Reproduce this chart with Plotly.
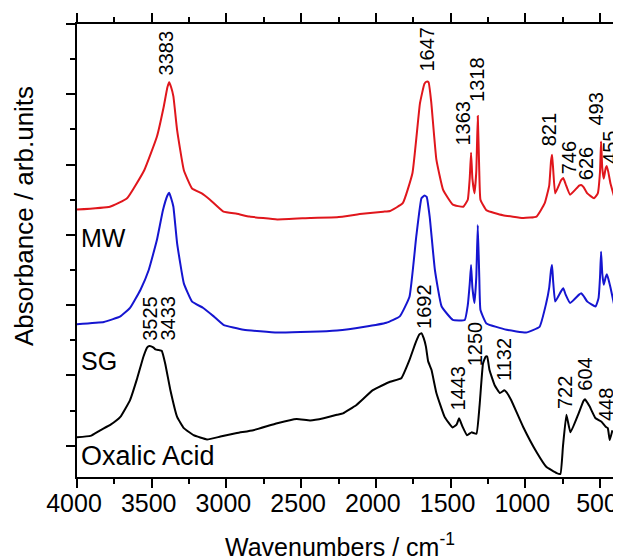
import plotly.graph_objects as go

# ---------------- data (wavenumber cm^-1, absorbance arb. units) ----------------
mw_wn = [4000, 3780, 3665, 3550, 3465, 3420, 3395, 3383, 3370, 3355, 3330, 3285, 3230,
         3165, 3110, 3020, 2930, 2845, 2660, 2440, 2260, 2090, 1950, 1905, 1820, 1755,
         1705, 1675, 1660, 1647, 1630, 1595, 1550, 1485, 1415, 1385, 1372, 1363, 1354,
         1340, 1328, 1318, 1308, 1300, 1260, 1150, 1015, 925, 870, 840, 828, 821, 814,
         800, 760, 746, 730, 700, 640, 626, 610, 585, 540, 515, 500, 493, 485, 475,
         462, 455, 445, 430, 405]
mw_ab = [3.36, 3.40, 3.52, 3.92, 4.40, 4.82, 5.10, 5.17, 5.10, 4.97, 4.49, 3.92, 3.66,
         3.59, 3.50, 3.33, 3.30, 3.26, 3.22, 3.24, 3.25, 3.30, 3.33, 3.34, 3.45, 3.88,
         4.87, 5.15, 5.18, 5.17, 4.90, 4.07, 3.64, 3.43, 3.40, 3.50, 3.80, 4.17, 3.80,
         3.59, 3.90, 4.69, 3.90, 3.50, 3.35, 3.28, 3.24, 3.26, 3.45, 3.70, 4.05, 4.14,
         3.95, 3.59, 3.78, 3.81, 3.72, 3.57, 3.70, 3.71, 3.68, 3.59, 3.52, 3.59, 3.90,
         4.33, 3.95, 3.80, 3.95, 3.98, 3.90, 3.73, 3.54]

sg_wn = [4000, 3820, 3710, 3645, 3575, 3520, 3465, 3425, 3395, 3383, 3370, 3355, 3330,
         3285, 3230, 3155, 3085, 3020, 2885, 2660, 2440, 2260, 2085, 1930, 1840, 1775,
         1730, 1695, 1675, 1660, 1640, 1605, 1560, 1485, 1405, 1385, 1372, 1363, 1354,
         1340, 1328, 1318, 1308, 1300, 1260, 1125, 995, 905, 860, 840, 828, 821, 814,
         800, 760, 746, 730, 700, 640, 626, 610, 585, 530, 510, 500, 493, 485, 475,
         462, 455, 445, 430, 405]
sg_ab = [1.73, 1.76, 1.84, 1.96, 2.22, 2.50, 2.93, 3.35, 3.56, 3.60, 3.52, 3.40, 2.88,
         2.31, 2.05, 1.96, 1.84, 1.72, 1.65, 1.61, 1.62, 1.64, 1.69, 1.75, 1.84, 2.12,
         2.97, 3.52, 3.56, 3.54, 3.26, 2.50, 1.98, 1.79, 1.79, 2.00, 2.30, 2.57, 2.25,
         2.03, 2.40, 3.14, 2.40, 1.93, 1.74, 1.65, 1.61, 1.69, 2.03, 2.25, 2.50, 2.57,
         2.35, 2.05, 2.20, 2.24, 2.15, 2.03, 2.15, 2.17, 2.13, 2.05, 1.98, 2.10, 2.40,
         2.76, 2.45, 2.29, 2.40, 2.44, 2.38, 2.25, 2.00]

ox_wn = [4000, 3910, 3845, 3775, 3710, 3645, 3600, 3555, 3530, 3515, 3490, 3475, 3450,
         3433, 3410, 3375, 3330, 3285, 3220, 3130, 3040, 2930, 2820, 2660, 2530, 2440,
         2350, 2260, 2220, 2130, 2020, 1905, 1830, 1775, 1735, 1710, 1695, 1680, 1665,
         1650, 1628, 1595, 1540, 1487, 1460, 1443, 1420, 1390, 1360, 1327, 1305, 1283,
         1265, 1255, 1240, 1205, 1170, 1140, 1125, 1095, 1015, 925, 860, 790, 765, 748,
         725, 698, 647, 610, 600, 570, 530, 490, 462, 448, 435, 417]
ox_ab = [0.12, 0.14, 0.22, 0.30, 0.41, 0.65, 0.94, 1.27, 1.40, 1.42, 1.40, 1.37, 1.36,
         1.35, 1.17, 0.79, 0.41, 0.25, 0.15, 0.09, 0.13, 0.18, 0.22, 0.32, 0.38, 0.36,
         0.39, 0.44, 0.46, 0.58, 0.79, 0.91, 0.96, 1.22, 1.46, 1.58, 1.60, 1.53, 1.41,
         1.20, 1.08, 0.75, 0.41, 0.26, 0.30, 0.39, 0.27, 0.15, 0.19, 0.17, 0.60, 1.17,
         1.27, 1.27, 1.08, 0.86, 0.75, 0.79, 0.76, 0.65, 0.27, -0.09, -0.30, -0.39, -0.40,
         -0.01, 0.44, 0.19, 0.44, 0.64, 0.66, 0.56, 0.39, 0.34, 0.27, 0.25, 0.08, 0.22]

# peak labels: text, label x (cm^-1), label bottom (arb. units)
mw_labels = ["3383", "1647", "1363", "1318", "821", "746", "626", "493", "455"]
mw_lab_x = [3403, 1661, 1423, 1323, 843, 710, 592, 524, 432]
mw_lab_y = [5.25, 5.31, 4.25, 4.87, 4.25, 3.85, 3.76, 4.54, 3.99]

ox_labels = ["3525", "3433", "1692", "1443", "1250", "1132", "722", "604", "448"]
ox_lab_x = [3507, 3389, 1673, 1450, 1338, 1138, 730, 603, 455]
ox_lab_y = [1.48, 1.48, 1.65, 0.48, 1.12, 0.91, 0.51, 0.77, 0.34]

sample_names = ["MW", "SG", "Oxalic Acid"]
sample_name_y = [2.955, 1.21, -0.15]

x_ticks = [4000, 3500, 3000, 2500, 2000, 1500, 1000, 500]

x_title = "Wavenumbers / cm<sup>-1</sup>"
y_title = "Absorbance / arb.units"

# ---------------- figure ----------------
fig = go.Figure()
line_shape = dict(shape="spline", smoothing=0.35)
fig.add_trace(go.Scatter(x=mw_wn, y=mw_ab, mode="lines",
                         line=dict(color="#e0161c", width=2, **line_shape), name="MW"))
fig.add_trace(go.Scatter(x=sg_wn, y=sg_ab, mode="lines",
                         line=dict(color="#1515d0", width=2, **line_shape), name="SG"))
fig.add_trace(go.Scatter(x=ox_wn, y=ox_ab, mode="lines",
                         line=dict(color="#000000", width=2, **line_shape), name="Oxalic Acid"))

font_family = "Liberation Sans, Arial, sans-serif"
for t, x, y in list(zip(mw_labels, mw_lab_x, mw_lab_y)) + list(zip(ox_labels, ox_lab_x, ox_lab_y)):
    fig.add_annotation(x=x, y=y, xref="x", yref="y", text=t, showarrow=False,
                       textangle=-90, xanchor="center", yanchor="bottom",
                       font=dict(size=20, color="black", family=font_family),
                       borderpad=0)

for name, y, size in zip(sample_names, sample_name_y, [25, 25, 27]):
    fig.add_annotation(x=3985, y=y, xref="x", yref="y", text=name, showarrow=False,
                       xanchor="left", yanchor="middle",
                       font=dict(size=size, color="black", family=font_family))

# axis titles
fig.add_annotation(x=0.485, y=-0.151, xref="paper", yref="paper", text=x_title,
                   showarrow=False, xanchor="center", yanchor="middle",
                   font=dict(size=25, color="black", family=font_family))
fig.add_annotation(x=-0.0978, y=0.576, xref="paper", yref="paper", text=y_title,
                   showarrow=False, xanchor="center", yanchor="middle", textangle=-90,
                   font=dict(size=26, color="black", family=font_family))

# page body has an 8px margin, so the figure is sized 8px smaller than the window
fig.update_layout(
    width=613, height=551,
    margin=dict(l=69, r=2, t=16, b=82),
    paper_bgcolor="white", plot_bgcolor="white",
    showlegend=False,
    font=dict(family=font_family, color="black"),
)
fig.update_xaxes(
    range=[4000, 373], tickvals=x_ticks, ticktext=[str(v) for v in x_ticks],
    ticks="outside", ticklen=9, tickwidth=1.5, tickcolor="black",
    minor=dict(tickvals=[3750, 3250, 2750, 2250, 1750, 1250, 750], ticks="outside",
               ticklen=5, tickwidth=1.5, tickcolor="black"),
    showline=True, linecolor="black", linewidth=1.5, mirror="ticks",
    showgrid=False, zeroline=False,
    tickfont=dict(size=25, family=font_family), ticklabelstandoff=-6, ticklabelshift=3,
    ticklabeloverflow="allow",
    automargin=False,
)
fig.update_yaxes(
    range=[-0.445, 6.0], tickvals=[0, 1, 2, 3, 4, 5, 6], showticklabels=False,
    ticks="outside", ticklen=9, tickwidth=1.5, tickcolor="black",
    minor=dict(tickvals=[0.5, 1.5, 2.5, 3.5, 4.5, 5.5], ticks="outside",
               ticklen=5, tickwidth=1.5, tickcolor="black"),
    showline=True, linecolor="black", linewidth=1.5, mirror=True,
    showgrid=False, zeroline=False,
    automargin=False,
)

fig.write_html("out.html")
